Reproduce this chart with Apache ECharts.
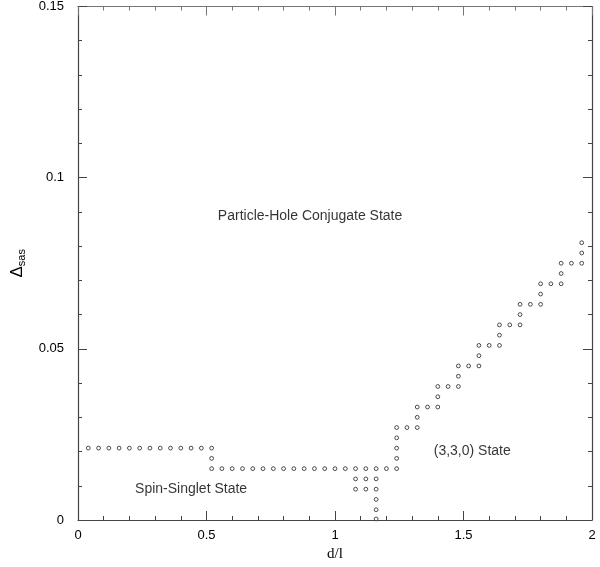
<!DOCTYPE html>
<html>
<head>
<meta charset="utf-8">
<script src="https://cdn.jsdelivr.net/npm/echarts@6/dist/echarts.min.js"></script>
<style>
html,body{margin:0;padding:0;background:#fff;}
#chart{width:600px;height:567px;}
</style>
</head>
<body>
<div id="chart"></div>
<script>
// phase boundary points [d/l, Delta_sas]
var lowerBoundary=[
    [0.04,0.021],[0.08,0.021],[0.12,0.021],[0.16,0.021],[0.20,0.021],[0.24,0.021],[0.28,0.021],
    [0.32,0.021],[0.36,0.021],[0.40,0.021],[0.44,0.021],[0.48,0.021],[0.52,0.021],
    [0.52,0.018],
    [0.52,0.015],[0.56,0.015],[0.60,0.015],[0.64,0.015],[0.68,0.015],[0.72,0.015],[0.76,0.015],
    [0.80,0.015],[0.84,0.015],[0.88,0.015],[0.92,0.015],[0.96,0.015],[1.00,0.015],[1.04,0.015],
    [1.08,0.015],[1.12,0.015],[1.16,0.015],[1.20,0.015],[1.24,0.015]
];
var notchPoints=[
    [1.08,0.012],[1.08,0.009],[1.12,0.012],[1.12,0.009],
    [1.16,0.012],[1.16,0.009],[1.16,0.006],[1.16,0.003],[1.16,0.0003]
];
var stairPoints=[
    [1.24,0.018],[1.24,0.021],[1.24,0.024],[1.24,0.027],[1.28,0.027],[1.32,0.027],
    [1.32,0.030],[1.32,0.033],[1.36,0.033],[1.40,0.033],
    [1.40,0.036],[1.40,0.039],[1.44,0.039],[1.48,0.039],
    [1.48,0.042],[1.48,0.045],[1.52,0.045],[1.56,0.045],
    [1.56,0.048],[1.56,0.051],[1.60,0.051],[1.64,0.051],
    [1.64,0.054],[1.64,0.057],[1.68,0.057],[1.72,0.057],
    [1.72,0.060],[1.72,0.063],[1.76,0.063],[1.80,0.063],
    [1.80,0.066],[1.80,0.069],[1.84,0.069],[1.88,0.069],
    [1.88,0.072],[1.88,0.075],[1.92,0.075],[1.96,0.075],
    [1.96,0.078],[1.96,0.081]
];
// region labels [d/l, Delta_sas, text]
var regionLabels=[
    [0.903,0.0888,'Particle-Hole Conjugate State'],
    [0.44,0.0089,'Spin-Singlet State'],
    [1.534,0.0200,'(3,3,0) State']
];
var xTicks=[0,0.5,1,1.5,2];
var yTicks=[0,0.05,0.1,0.15];

var axisColor='#444';
var fontSans='"Liberation Sans", Arial, Helvetica, sans-serif';
var fontSerif='"Liberation Serif", "Times New Roman", serif';

function fmtX(v){
    for(var i=0;i<xTicks.length;i++){ if(Math.abs(v-xTicks[i])<1e-9) return String(xTicks[i]); }
    return '';
}
function fmtY(v){
    for(var i=0;i<yTicks.length;i++){ if(Math.abs(v-yTicks[i])<1e-9) return String(yTicks[i]); }
    return '';
}

var dotStyle={color:'#fff',borderColor:'#222',borderWidth:1};

//坐标轴公共部分
function frameAxis(pos,color){
    return {
        position:pos,
        axisLine:{onZero:false,lineStyle:{color:color,width:1.2}},
        axisTick:{inside:true,length:9,lineStyle:{color:color}},
        minorTick:{show:true,splitNumber:5,length:4,lineStyle:{color:color}},
        splitLine:{show:false}
    };
}

var xBottom=frameAxis('bottom',axisColor);
xBottom.type='value';xBottom.min=0;xBottom.max=2;xBottom.interval=0.5;
xBottom.name='d/l';xBottom.nameLocation='middle';xBottom.nameGap=27;
xBottom.nameTextStyle={fontFamily:fontSerif,fontSize:15,color:'#000'};
xBottom.axisLabel={formatter:fmtX,fontFamily:fontSans,fontSize:13,color:'#000',margin:9};

var xTop=frameAxis('top','#777');
xTop.type='value';xTop.min=0;xTop.max=2;xTop.interval=0.5;
xTop.axisLabel={show:false};

var yLeft=frameAxis('left',axisColor);
yLeft.type='value';yLeft.min=0;yLeft.max=0.15;yLeft.interval=0.05;
yLeft.name='{d|Δ}{s|sas}';yLeft.nameLocation='middle';yLeft.nameGap=44;yLeft.nameRotate=90;
yLeft.nameTextStyle={
    rich:{
        d:{fontFamily:fontSans,fontSize:17,color:'#000'},
        s:{fontFamily:fontSans,fontSize:11,color:'#000',padding:[9,0,0,0]}
    }
};
yLeft.axisLabel={formatter:fmtY,fontFamily:fontSans,fontSize:13,color:'#000',margin:14};

var yRight=frameAxis('right',axisColor);
yRight.type='value';yRight.min=0;yRight.max=0.15;yRight.interval=0.05;
yRight.axisLabel={show:false};

var chart=echarts.init(document.getElementById('chart'));
var option={
    backgroundColor:'#fff',
    animation:false,
    grid:{left:78,right:8,top:6,bottom:46.5},
    xAxis:[xBottom,xTop],
    yAxis:[yLeft,yRight],
    series:[{
        type:'scatter',symbol:'circle',symbolSize:3.8,
        itemStyle:dotStyle,data:lowerBoundary
    },{
        type:'scatter',symbol:'circle',symbolSize:3.8,
        itemStyle:dotStyle,data:notchPoints
    },{
        type:'scatter',symbol:'circle',symbolSize:3.8,
        itemStyle:dotStyle,data:stairPoints
    },{
        type:'scatter',symbolSize:0,silent:true,
        label:{
            show:true,position:'inside',
            formatter:function(p){return p.data[2];},
            fontFamily:fontSans,fontSize:14,color:'#000'
        },
        data:regionLabels
    }]
};
chart.setOption(option);
</script>
</body>
</html>
